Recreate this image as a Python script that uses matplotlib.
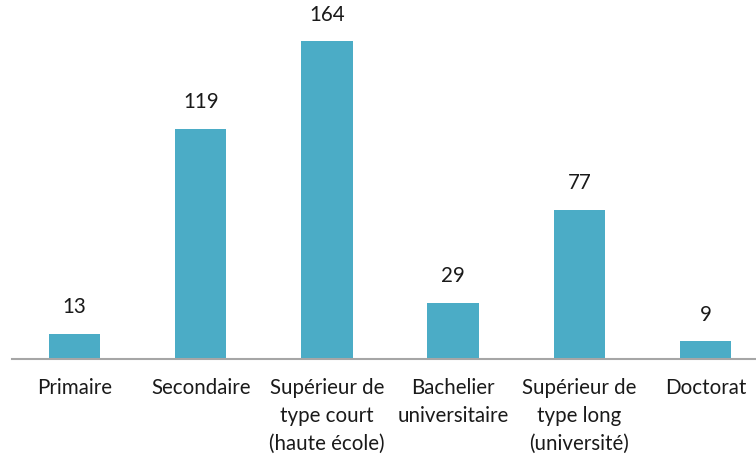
import matplotlib.pyplot as plt
import numpy as np

categories = ["Primaire", "Secondaire", "Supérieur de\ntype court\n(haute école)",
              "Bachelier\nuniversitaire", "Supérieur de\ntype long\n(université)", "Doctorat"]
values = [13, 119, 164, 29, 77, 9]

plt.rcParams['font.family'] = ['Lato', 'DejaVu Sans']

fig = plt.figure(figsize=(7.56, 4.57), dpi=100)
ax = fig.add_axes([11.5 / 756, 0.215, 757 / 756, 0.762])

x = np.arange(len(values))
bars = ax.bar(x, values, width=0.406, color='#4BACC6')

for xi, v in zip(x, values):
    ax.annotate(str(v), (xi, v), xytext=(0, 12), textcoords='offset points',
                ha='center', va='bottom', fontsize=14.8, color='#1a1a1a')

ax.set_xlim(-0.5, 5.5)
ax.set_ylim(0, 180)
ax.set_xticks(x)
ax.set_xticklabels(categories, fontsize=14.8, color='#1a1a1a', linespacing=1.5)
ax.tick_params(axis='x', length=0, pad=14)
ax.set_yticks([])
for side in ['top', 'right', 'left']:
    ax.spines[side].set_visible(False)
ax.spines['bottom'].set_color('#A6A6A6')
ax.spines['bottom'].set_linewidth(1.5)

fig.savefig('out.png', dpi=100)
